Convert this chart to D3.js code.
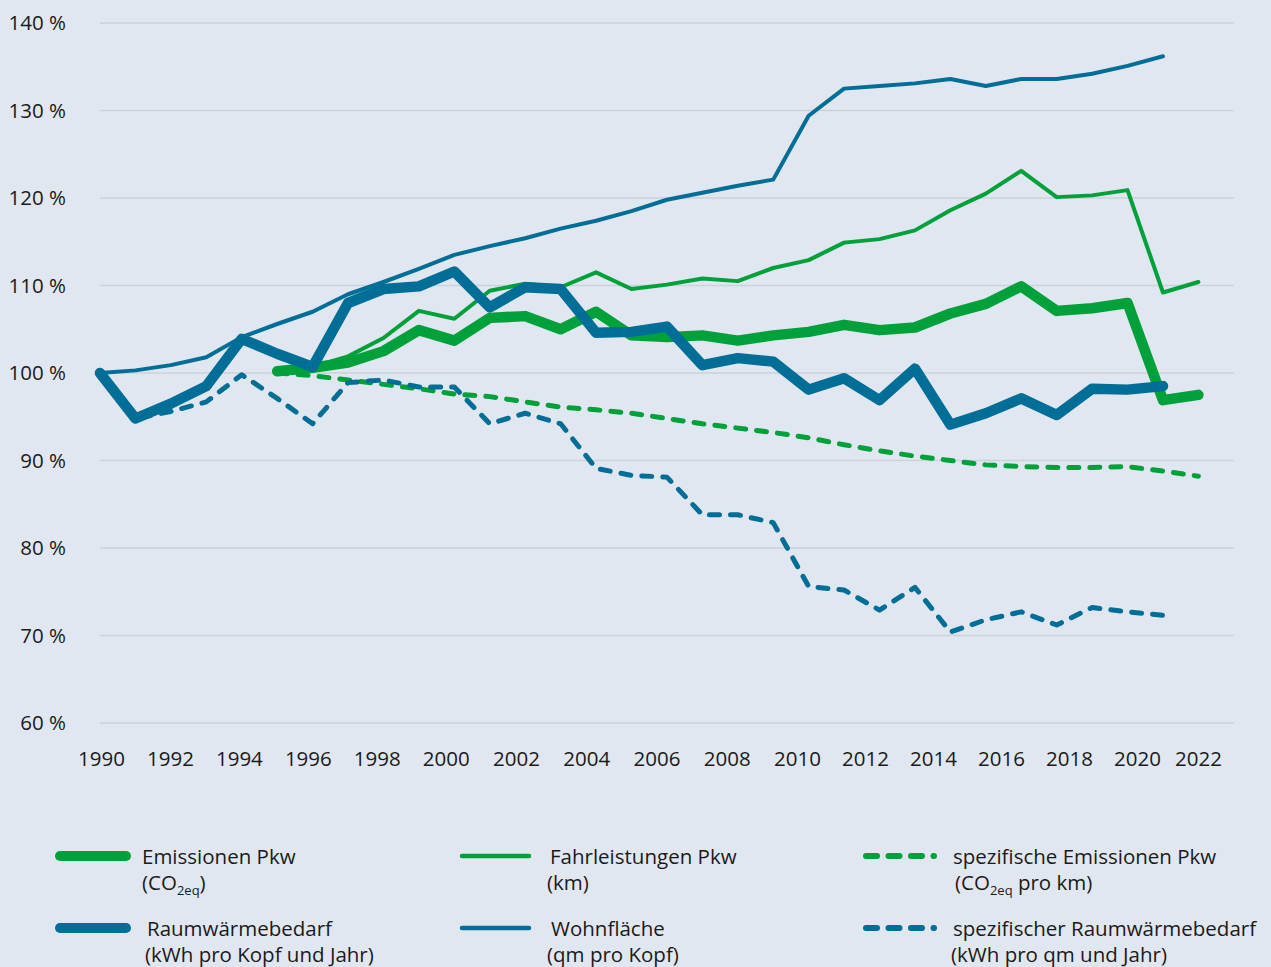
<!DOCTYPE html>
<html><head><meta charset="utf-8">
<script src="https://cdn.jsdelivr.net/npm/d3@7"></script>
<style>
html,body{margin:0;padding:0;background:#e1e7f0;}
svg{display:block;font-family:"Open Sans",sans-serif;}
</style></head><body>
<svg id="chart" width="1271" height="967"></svg>
<script>
// ---- data ----
const years = [1990,1991,1992,1993,1994,1995,1996,1997,1998,1999,2000,2001,2002,2003,2004,2005,
               2006,2007,2008,2009,2010,2011,2012,2013,2014,2015,2016,2017,2018,2019,2020,2021];
const tickYears = [1990,1992,1994,1996,1998,2000,2002,2004,2006,2008,2010,2012,2014,2016,2018,2020,2022];
const yTicks = [60,70,80,90,100,110,120,130,140];

const emissionenPkw = [null,null,null,null,null,100.2,100.6,101.2,102.5,104.9,103.7,106.3,106.5,105.0,107.0,104.3,
                       104.1,104.3,103.7,104.3,104.7,105.5,104.9,105.2,106.8,107.9,109.9,107.1,107.4,108.0,96.9,97.5];
const fahrleistungenPkw = [null,null,null,null,null,100.2,100.7,101.9,104.0,107.1,106.2,109.4,110.2,109.8,111.5,109.6,
                       110.1,110.8,110.5,112.0,112.9,114.9,115.3,116.3,118.6,120.5,123.1,120.1,120.3,120.9,109.2,110.4];
const spezEmissionenPkw = [null,null,null,null,null,100.0,99.7,99.2,98.7,98.2,97.6,97.3,96.7,96.1,95.8,95.4,
                       94.8,94.2,93.7,93.2,92.6,91.8,91.1,90.5,90.0,89.5,89.3,89.2,89.2,89.3,88.8,88.2];
const raumwaermebedarf = [100,94.8,96.5,98.5,103.9,102.2,100.7,108.0,109.6,109.9,111.6,107.5,109.8,109.6,104.6,104.7,
                       105.3,100.9,101.7,101.3,98.1,99.4,96.9,100.5,94.1,95.4,97.1,95.2,98.2,98.1,98.5,null];
const wohnflaeche = [100,100.3,100.9,101.8,104.1,105.6,107.0,109.0,110.4,111.9,113.5,114.5,115.4,116.5,117.4,118.5,
                       119.8,120.6,121.4,122.1,129.4,132.5,132.8,133.1,133.6,132.8,133.6,133.6,134.2,135.1,136.2,null];
const spezRaumwaerme = [100,94.8,95.6,96.7,99.8,97.1,94.2,98.9,99.2,98.4,98.4,94.2,95.4,94.2,89.1,88.3,
                       88.1,83.8,83.8,82.9,75.6,75.2,72.9,75.5,70.4,71.8,72.7,71.2,73.2,72.7,72.3,null];

const GREEN = "#00a13b", BLUE = "#006e96";

const svg = d3.select("#chart");
const x = d3.scaleLinear().domain([1990, 2021]).range([100, 1198.4]);
const y = d3.scaleLinear().domain([60, 140]).range([723, 23]);
// tick-label positions as printed in the original (slightly irregular)
const xLabel = d3.scaleLinear().domain([1990, 2000, 2010, 2020, 2022]).range([101, 445.7, 797, 1137, 1198]);

// grid
svg.append("g").selectAll("line").data(yTicks).join("line")
  .attr("x1", 100).attr("x2", 1234)
  .attr("y1", d => y(d)).attr("y2", d => y(d))
  .attr("stroke", "#cdd1d9").attr("stroke-width", 1.5);

// y axis labels
const yAxis = svg.append("g").attr("transform", "translate(66,0)")
  .call(d3.axisLeft(y).tickValues(yTicks).tickSize(0).tickPadding(0).tickFormat(d => d + " %"));
yAxis.select(".domain").remove();
yAxis.selectAll("text").attr("font-size", 20.5).attr("fill", "#1a1a1a").attr("font-family", "Open Sans");

// x axis labels
const xAxis = svg.append("g").attr("transform", "translate(0,751)")
  .call(d3.axisBottom(xLabel).tickValues(tickYears).tickSize(0).tickPadding(0).tickFormat(d3.format("d")));
xAxis.select(".domain").remove();
xAxis.selectAll("text").attr("font-size", 20.5).attr("fill", "#1a1a1a").attr("font-family", "Open Sans");

const line = d3.line().defined(d => d[1] != null).x(d => x(d[0])).y(d => y(d[1]));
const pts = arr => years.map((yr, i) => [yr, arr[i]]);

const series = [
  {data: spezEmissionenPkw, color: GREEN, w: 5, dash: "10,11"},
  {data: spezRaumwaerme, color: BLUE, w: 5, dash: "10,11"},
  {data: fahrleistungenPkw, color: GREEN, w: 4},
  {data: emissionenPkw, color: GREEN, w: 10.5},
  {data: wohnflaeche, color: BLUE, w: 4},
  {data: raumwaermebedarf, color: BLUE, w: 10.5}
];
svg.append("g").selectAll("path").data(series).join("path")
  .attr("d", s => line(pts(s.data)))
  .attr("fill", "none")
  .attr("stroke", s => s.color)
  .attr("stroke-width", s => s.w)
  .attr("stroke-linejoin", "round")
  .attr("stroke-linecap", "round")
  .attr("stroke-dasharray", s => s.dash || null);

// legend
const legend = [
  {x1: 60, x2: 126, y: 856, color: GREEN, w: 10, tx: 142, l1: "Emissionen Pkw", l2: [["(CO"],["2eq","sub"],[")"]], l2x: 142},
  {x1: 462, x2: 529, y: 856, color: GREEN, w: 4.5, tx: 550, l1: "Fahrleistungen Pkw", l2: [["(km)"]], l2x: 547},
  {x1: 866, x2: 934, y: 856, color: GREEN, w: 6, dash: "11,11.5", tx: 953, l1: "spezifische Emissionen Pkw", l2: [["(CO"],["2eq","sub"],[" pro km)"]], l2x: 955},
  {x1: 60, x2: 126, y: 928, color: BLUE, w: 10, tx: 147, l1: "Raumwärmebedarf", l2: [["(kWh pro Kopf und Jahr)"]], l2x: 145},
  {x1: 462, x2: 529, y: 928, color: BLUE, w: 4.5, tx: 551, l1: "Wohnfläche", l2: [["(qm pro Kopf)"]], l2x: 547},
  {x1: 866, x2: 934, y: 928, color: BLUE, w: 6, dash: "11,11.5", tx: 953, l1: "spezifischer Raumwärmebedarf", l2: [["(kWh pro qm und Jahr)"]], l2x: 951}
];
const lg = svg.append("g").selectAll("g").data(legend).join("g");
lg.append("line")
  .attr("x1", d => d.x1).attr("x2", d => d.x2).attr("y1", d => d.y).attr("y2", d => d.y)
  .attr("stroke", d => d.color).attr("stroke-width", d => d.w)
  .attr("stroke-linecap", "round").attr("stroke-dasharray", d => d.dash || null);
lg.append("text").attr("x", d => d.tx).attr("y", d => d.y + 8)
  .attr("font-size", 20.5).attr("fill", "#1a1a1a").text(d => d.l1);
lg.each(function(d) {
  const t = d3.select(this).append("text").attr("x", d.l2x).attr("y", d.y + 34)
    .attr("font-size", 20.5).attr("fill", "#1a1a1a");
  d.l2.forEach(([s, kind]) => {
    if (kind === "sub") {
      t.append("tspan").attr("font-size", 13).attr("dy", 5).text(s);
    } else {
      const sp = t.append("tspan").text(s);
      if (t.selectAll("tspan").size() > 1) sp.attr("dy", -5);
    }
  });
});
</script>
</body></html>
